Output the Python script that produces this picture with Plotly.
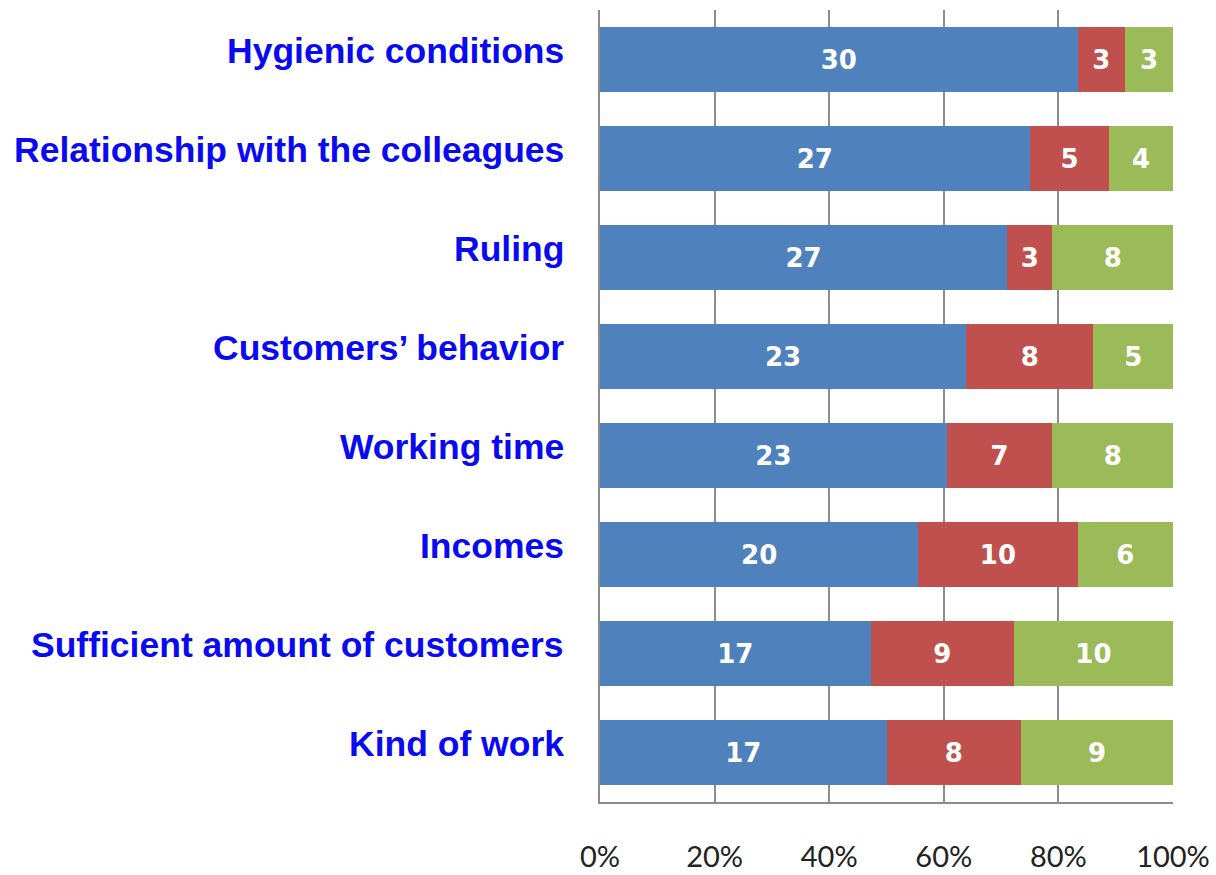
import plotly.graph_objects as go

categories = ["Hygienic conditions", "Relationship with the colleagues", "Ruling",
              "Customers’ behavior", "Working time", "Incomes",
              "Sufficient amount of customers", "Kind of work"]
series_a = [30, 27, 27, 23, 23, 20, 17, 17]
series_b = [3, 5, 3, 8, 7, 10, 9, 8]
series_c = [3, 4, 8, 5, 8, 6, 10, 9]
tick_vals = [0, 20, 40, 60, 80, 100]
tick_text = ["0%", "20%", "40%", "60%", "80%", "100%"]

colors = ["#4F81BD", "#C0504D", "#9BBB59"]

fig = go.Figure()
for vals, col in zip([series_a, series_b, series_c], colors):
    fig.add_trace(go.Bar(
        y=categories, x=vals, orientation="h",
        marker=dict(color=col, line=dict(width=0)),
        text=[str(v) for v in vals], textposition="inside",
        insidetextanchor="middle", textangle=0,
        textfont=dict(family="DejaVu Sans", size=26, color="white", weight="bold"),
        showlegend=False, hoverinfo="skip",
    ))

for c in categories:
    fig.add_annotation(
        x=0, xref="paper", xanchor="right", xshift=-34,
        y=c, yref="y", yshift=9, showarrow=False,
        text=c, font=dict(family="Liberation Sans", size=35.5, color="#0A0AF0", weight="bold"),
    )

fig.update_layout(
    barmode="stack", barnorm="percent", bargap=0.345,
    width=1216, height=875,
    margin=dict(l=600, r=43, t=10, b=73, autoexpand=False),
    plot_bgcolor="white", paper_bgcolor="white",
    uniformtext=dict(minsize=26, mode="show"),
)
fig.update_xaxes(
    range=[0, 100], tickvals=tick_vals, ticktext=tick_text,
    showgrid=True, gridcolor="#8C8C8C", gridwidth=1.5,
    showline=True, linecolor="#8C8C8C", linewidth=1.5,
    tickfont=dict(family="Lato", size=29, color="#222222"),
    ticks="", ticklabelstandoff=28, zeroline=False, automargin=False,
    ticklabeloverflow="allow",
)
fig.update_yaxes(
    autorange="reversed", showticklabels=False,
    showline=True, linecolor="#8C8C8C", linewidth=1.5,
    showgrid=False, zeroline=False, automargin=False,
)

fig.write_html("out.html", config={"displayModeBar": False},
               post_script="document.body.style.margin='0';document.body.style.overflow='hidden';")
